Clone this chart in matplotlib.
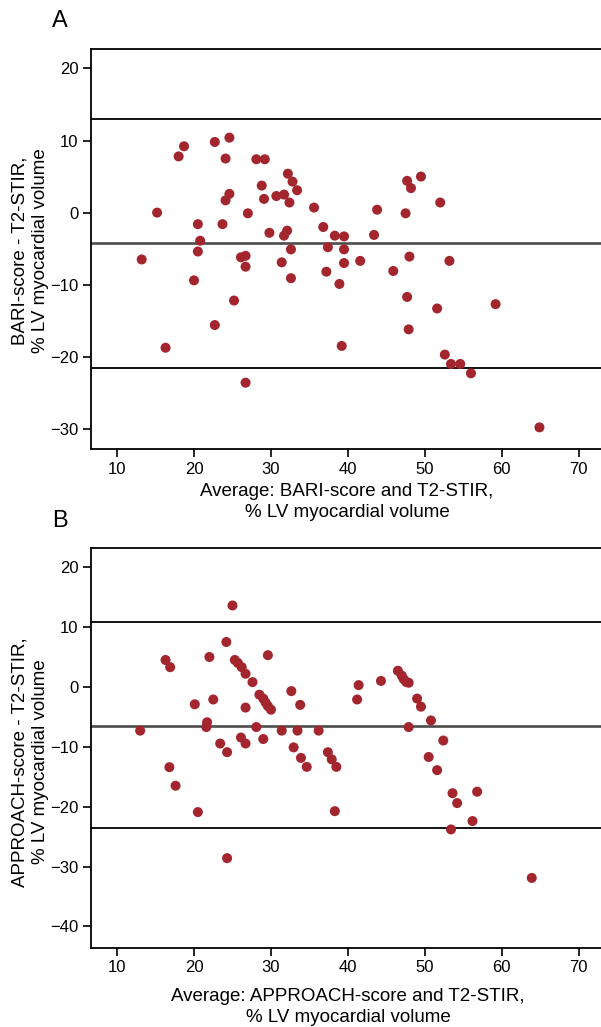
import matplotlib
matplotlib.use("Agg")
import matplotlib.pyplot as plt

plt.rcParams['font.family'] = ['Liberation Sans', 'DejaVu Sans']

# Panel A: BARI-score vs T2-STIR
bari_avg = [13.2, 15.2, 16.3, 18.0, 18.7, 20.0, 20.5, 20.5, 20.8, 22.7, 22.7, 23.7,
            24.1, 24.1, 24.6, 24.6, 25.2, 26.1, 26.7, 26.7, 26.7, 27.0, 28.1, 28.8,
            29.1, 29.2, 29.8, 30.7, 31.4, 31.7, 31.7, 32.1, 32.2, 32.4, 32.6, 32.6,
            32.8, 33.4, 35.6, 36.8, 37.2, 37.4, 38.3, 38.9, 39.2, 39.5, 39.5, 39.5,
            41.6, 43.4, 43.8, 45.9, 47.5, 47.7, 47.7, 47.9, 48.0, 48.2, 49.5, 51.6,
            52.0, 52.6, 53.2, 53.4, 54.6, 56.0, 59.2, 64.9]
bari_diff = [-6.5, 0.0, -18.75, 7.8, 9.2, -9.4, -1.6, -5.4, -3.9, 9.8, -15.6, -1.6,
             7.5, 1.7, 10.4, 2.6, -12.2, -6.2, -6.0, -7.5, -23.6, -0.1, 7.4, 3.75,
             1.9, 7.4, -2.8, 2.3, -6.9, 2.5, -3.2, -2.5, 5.4, 1.4, -5.1, -9.1,
             4.3, 3.1, 0.7, -2.0, -8.2, -4.8, -3.2, -9.9, -18.5, -3.3, -5.1, -7.0,
             -6.7, -3.1, 0.4, -8.1, -0.1, 4.4, -11.7, -16.2, -6.1, 3.4, 5.0, -13.3,
             1.4, -19.7, -6.7, -21.0, -21.0, -22.3, -12.7, -29.8]
bari_lines = [13.0, -4.2, -21.55]

# Panel B: APPROACH-score vs T2-STIR
appr_avg = [13.0, 16.3, 16.9, 16.8, 17.6, 20.1, 20.5, 22.0, 22.5, 21.7, 21.6, 23.4,
            24.3, 24.2, 24.3, 25.0, 25.3, 25.7, 26.2, 26.7, 26.7, 26.1, 26.7, 27.6,
            28.1, 28.5, 29.0, 29.3, 29.6, 30.0, 29.0, 29.6, 31.4, 32.65, 33.8, 33.45,
            32.95, 33.9, 34.65, 36.2, 37.4, 37.9, 38.5, 38.3, 41.2, 41.4, 44.3, 46.5,
            47.0, 47.25, 47.6, 47.9, 47.9, 49.0, 49.5, 50.8, 52.4, 50.5, 51.6, 53.6,
            54.2, 56.8, 56.2, 53.4, 63.9]
appr_diff = [-7.3, 4.5, 3.3, -13.4, -16.5, -2.9, -20.9, 5.0, -2.1, -5.9, -6.7, -9.45,
             -10.9, 7.5, -28.6, 13.6, 4.5, 4.0, 3.3, 2.2, -3.45, -8.45, -9.45, 0.8,
             -6.7, -1.3, -1.95, -2.6, -3.2, -3.8, -8.7, 5.3, -7.3, -0.7, -3.0, -7.3,
             -10.1, -11.85, -13.35, -7.3, -10.9, -12.1, -13.35, -20.75, -2.1, 0.3, 1.0, 2.7,
             1.9, 1.3, 0.8, 0.7, -6.7, -1.95, -3.3, -5.6, -8.95, -11.7, -13.9, -17.75,
             -19.4, -17.5, -22.4, -23.8, -31.9]
appr_lines = [10.9, -6.45, -23.6]

x_ticks = [10, 20, 30, 40, 50, 60, 70]
a_yticks = [20, 10, 0, -10, -20, -30]
b_yticks = [20, 10, 0, -10, -20, -30, -40]

W, H = 601, 1027
fig = plt.figure(figsize=(W / 100, H / 100), dpi=100)

dot_color = '#A3262E'
AX_LEFT = 91


def make_axes(top, bottom, left=AX_LEFT, right=601):
    return fig.add_axes([left / W, 1 - bottom / H, (right - left) / W, (bottom - top) / H])


def style(ax, xs, ys, lines, yticks, ylim):
    ax.scatter(xs, ys, s=52, color=dot_color, edgecolors='none', zorder=3)
    ax.axhline(lines[0], color='black', lw=1.3, zorder=2)
    ax.axhline(lines[1], color='#4d4d4d', lw=1.9, zorder=2)
    ax.axhline(lines[2], color='black', lw=1.3, zorder=2)
    ax.set_xlim(6.61, 72.9)
    ax.set_ylim(*ylim)
    ax.set_xticks(x_ticks)
    ax.set_yticks(yticks)
    ax.set_yticklabels([str(t).replace('-', '\u2212') for t in yticks])
    ax.spines['right'].set_visible(False)
    for s in ['left', 'bottom', 'top']:
        ax.spines[s].set_linewidth(1.3)
    ax.tick_params(direction='out', length=6, width=1.2, labelsize=12, pad=3)


def label(x_px, y_px, text, rot=0):
    fig.text(x_px / W, 1 - y_px / H, text, fontsize=13.5, rotation=rot,
             ha='center', va='center', linespacing=1.27, multialignment='center')


axA = make_axes(49, 449)
style(axA, bari_avg, bari_diff, bari_lines, a_yticks, (-32.8, 22.7))
label(347, 502, 'Average: BARI-score and T2-STIR,\n% LV myocardial volume')
label(30.5, 251, 'BARI-score - T2-STIR,\n% LV myocardial volume', rot=90)

axB = make_axes(548, 948)
style(axB, appr_avg, appr_diff, appr_lines, b_yticks, (-43.6, 23.2))
label(348, 1007, 'Average: APPROACH-score and T2-STIR,\n% LV myocardial volume')
label(30.5, 762, 'APPROACH-score - T2-STIR,\n% LV myocardial volume', rot=90)

fig.text(52 / W, 1 - 21 / H, 'A', fontsize=17, ha='left', va='center')
fig.text(52 / W, 1 - 521 / H, 'B', fontsize=17, ha='left', va='center')

fig.savefig('out.png', dpi=100)
